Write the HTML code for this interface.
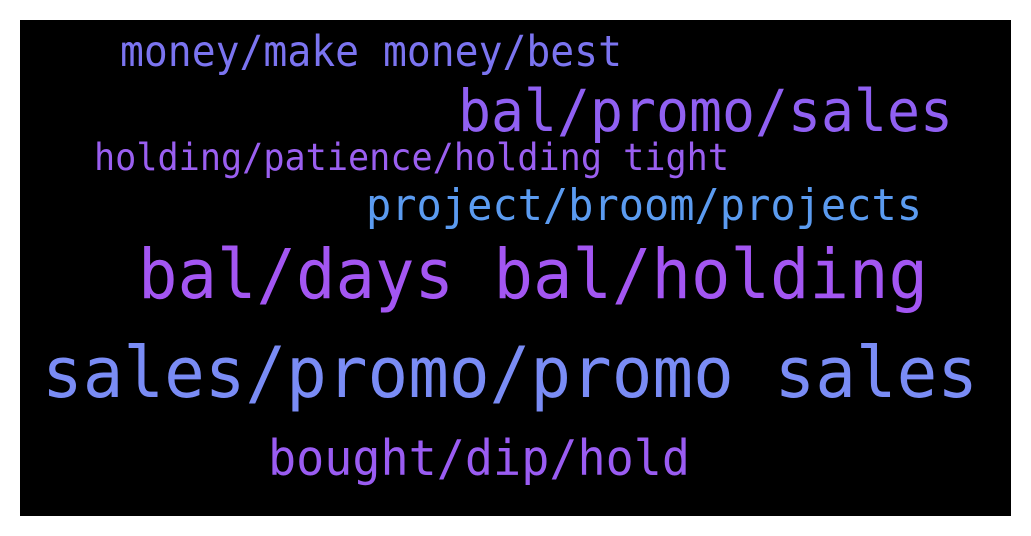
<!DOCTYPE html>
<html><head><meta charset="utf-8"><style>
html,body{margin:0;padding:0;background:#fff;width:1031px;height:536px;overflow:hidden}
svg{display:block}
text{font-family:"DejaVu Sans Mono","Liberation Mono",monospace}
</style></head><body>
<svg width="1031" height="536" viewBox="0 0 1031 536">
<rect x="20" y="20" width="991" height="496" fill="#000"/>
<text x="120" y="66" font-size="43" fill="#7b74f0" textLength="502" lengthAdjust="spacingAndGlyphs">money/make money/best</text>
<text x="458" y="131" font-size="58" fill="#9060f2" textLength="495" lengthAdjust="spacingAndGlyphs">bal/promo/sales</text>
<text x="94" y="170" font-size="37" fill="#9a5ff0" textLength="635" lengthAdjust="spacingAndGlyphs">holding/patience/holding tight</text>
<text x="366" y="220" font-size="44" fill="#5b9bf0" textLength="556" lengthAdjust="spacingAndGlyphs">project/broom/projects</text>
<text x="138" y="298" font-size="69" fill="#a356f2" textLength="790" lengthAdjust="spacingAndGlyphs">bal/days bal/holding</text>
<text x="42" y="397" font-size="70" fill="#7a8cf5" textLength="936" lengthAdjust="spacingAndGlyphs">sales/promo/promo sales</text>
<text x="268" y="475" font-size="49" fill="#9a5cf2" textLength="422" lengthAdjust="spacingAndGlyphs">bought/dip/hold</text>
</svg>
</body></html>
